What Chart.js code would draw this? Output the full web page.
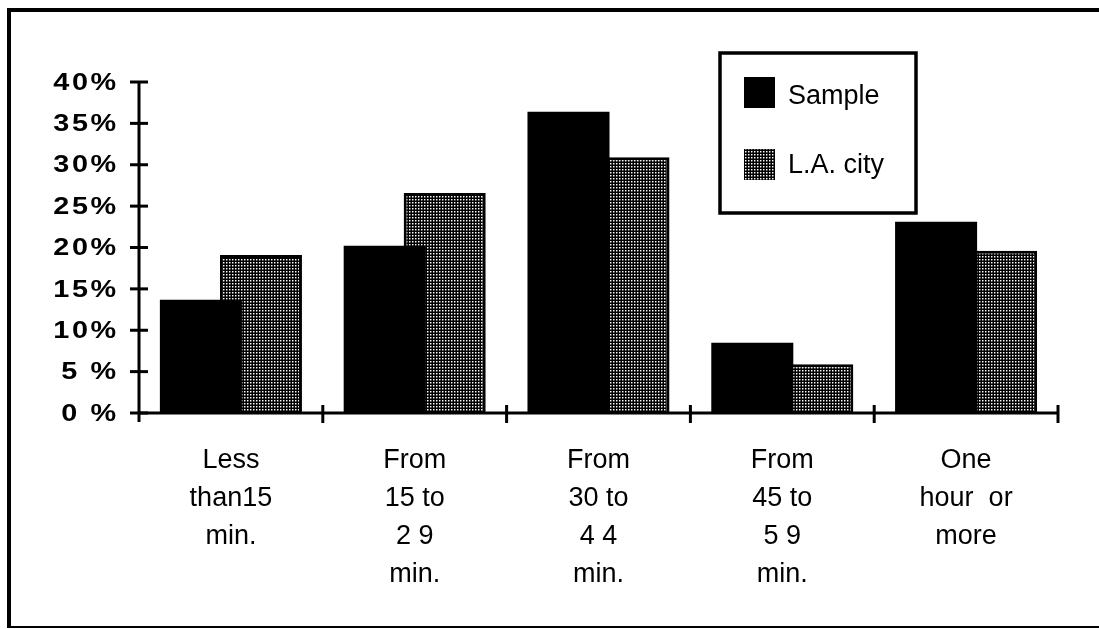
<!DOCTYPE html>
<html><head><meta charset="utf-8">
<script src="https://cdn.jsdelivr.net/npm/chart.js@4/dist/chart.umd.min.js"></script>
<style>
html,body{margin:0;padding:0;background:#fff;overflow:hidden}
#wrap{position:relative;width:1099px;height:629px}
#frame{position:absolute;left:7px;top:8px;right:-10px;bottom:1px;border-top:4px solid #000;border-left:4px solid #000;border-bottom:2px solid #000;pointer-events:none}
canvas{position:absolute;left:0;top:0}
</style></head><body>
<div id="wrap"><canvas id="c" width="1099" height="629"></canvas><div id="frame"></div></div>
<script>
const categories = [["Less","than15","min."],["From","15 to","2 9","min."],["From","30 to","4 4","min."],["From","45 to","5 9","min."],["One","hour  or","more"]];
const seriesNames = ["Sample","L.A. city"];
const sampleValues = [13.7, 20.2, 36.4, 8.5, 23.1];
const laCityValues = [19.1, 26.6, 30.9, 5.9, 19.6];
const yTickLabels = ["0 %","5 %","10%","15%","20%","25%","30%","35%","40%"];

function makePattern(){
  const c=document.createElement('canvas');c.width=3;c.height=3;
  const g=c.getContext('2d');g.fillStyle='#000';g.fillRect(0,0,3,3);
  g.fillStyle='#ffffff';g.fillRect(1,1,1,1);
  g.fillStyle='#777';g.fillRect(2,1,1,1);g.fillRect(1,2,1,1);
  g.fillStyle='#333';g.fillRect(2,2,1,1);
  return g.createPattern(c,'repeat');
}
const laPattern = makePattern();

const axisPlugin = {
  id:'axes',
  afterDatasetsDraw(chart){
    const ctx=chart.ctx, ca=chart.chartArea, x=chart.scales.x, y=chart.scales.y;
    ctx.save();
    ctx.strokeStyle='#000';ctx.lineWidth=3;ctx.lineCap='butt';
    ctx.beginPath();ctx.moveTo(ca.left,ca.top-1);ctx.lineTo(ca.left,ca.bottom+9);ctx.stroke();
    y.ticks.forEach((t,i)=>{const py=y.getPixelForTick(i);ctx.beginPath();ctx.moveTo(ca.left-9,py);ctx.lineTo(ca.left+9,py);ctx.stroke();});
    ctx.beginPath();ctx.moveTo(ca.left,ca.bottom);ctx.lineTo(ca.right,ca.bottom);ctx.stroke();
    for(let i=1;i<=categories.length;i++){const px=x.getPixelForValue(i-0.5);ctx.beginPath();ctx.moveTo(px,ca.bottom-8);ctx.lineTo(px,ca.bottom+10);ctx.stroke();}
    ctx.restore();
  },
  afterDraw(chart){
    const ctx=chart.ctx, y=chart.scales.y, ca=chart.chartArea;
    ctx.save();
    // y tick labels: wide, tracked bold
    ctx.fillStyle='#000';ctx.font='bold 24px "Liberation Sans", Arial, sans-serif';ctx.textBaseline='middle';ctx.textAlign='left';
    const track=2.5, sx=1.2;
    y.ticks.forEach((t,i)=>{
      const s=yTickLabels[i], py=y.getPixelForTick(i);
      let px=ca.left-23;
      for(let k=s.length-1;k>=0;k--){
        const ch=s[k], w=ctx.measureText(ch).width*sx;
        px-=w;
        ctx.save();ctx.translate(px,py+1);ctx.scale(sx,1);ctx.fillText(ch,0,0);ctx.restore();
        px-=track;
      }
    });
    // legend
    ctx.strokeStyle='#000';ctx.lineWidth=3.5;
    ctx.strokeRect(720,53,196,160);
    const ds=chart.data.datasets;
    const rows=[92,164], textY=[97,166];
    ds.forEach((d,i)=>{
      ctx.fillStyle=d.backgroundColor;ctx.fillRect(744,rows[i]-15,31,31);
      ctx.fillStyle='#000';ctx.font='27px "Liberation Sans", Arial, sans-serif';ctx.textBaseline='middle';ctx.textAlign='left';
      ctx.fillText(d.label,788,textY[i]);
    });
    ctx.restore();
  }
};

new Chart(document.getElementById('c'),{
  type:'bar',
  data:{labels:categories,datasets:[
    {label:seriesNames[0],data:sampleValues,backgroundColor:'#000',borderWidth:0,categoryPercentage:0.653,barPercentage:1.367},
    {label:seriesNames[1],data:laCityValues,backgroundColor:laPattern,borderColor:'#000',borderWidth:3,categoryPercentage:0.653,barPercentage:1.367}
  ]},
  options:{
    responsive:false,animation:false,devicePixelRatio:1,
    layout:{padding:{left:0,right:41,top:82,bottom:0}},
    plugins:{legend:{display:false},tooltip:{enabled:false}},
    scales:{
      x:{grid:{display:false},border:{display:false},
         ticks:{color:'#000',font:{family:'"Liberation Sans", Arial, sans-serif',size:27,lineHeight:38/27},padding:21,maxRotation:0,autoSkip:false},
         afterFit(s){s.height=216;}},
      y:{min:0,max:40,grid:{display:false},border:{display:false},
         ticks:{display:false,stepSize:5},
         afterFit(s){s.width=139;}}
    }
  },
  plugins:[axisPlugin]
});
</script>
</body></html>
